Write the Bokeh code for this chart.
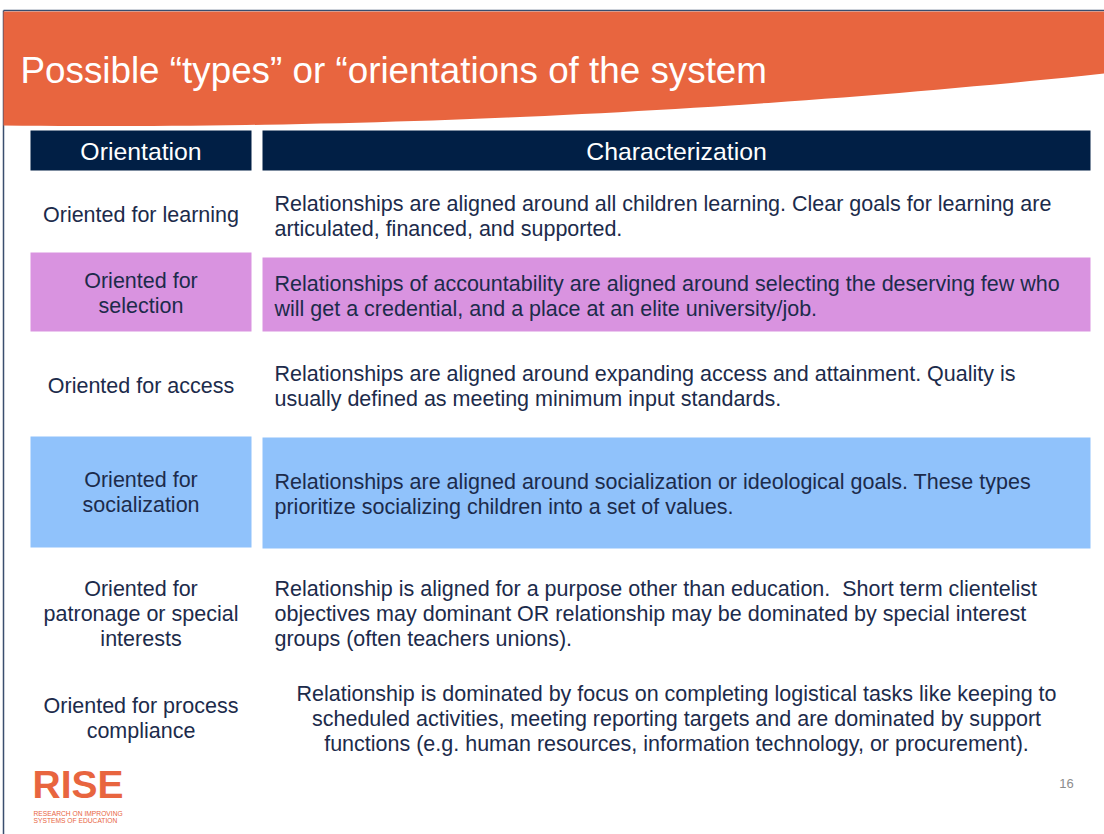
import numpy as np
from bokeh.plotting import figure
from bokeh.models import Range1d
from bokeh.core.properties import value
from bokeh.embed import file_html
from bokeh.resources import INLINE

# ---------------- content ----------------
title = "Possible \u201ctypes\u201d or \u201corientations of the system"
headers = ["Orientation", "Characterization"]
orientations = [
    "Oriented for learning",
    "Oriented for\nselection",
    "Oriented for access",
    "Oriented for\nsocialization",
    "Oriented for\npatronage or special\ninterests",
    "Oriented for process\ncompliance",
]
characterizations = [
    "Relationships are aligned around all children learning. Clear goals for learning are\narticulated, financed, and supported.",
    "Relationships of accountability are aligned around selecting the deserving few who\nwill get a credential, and a place at an elite university/job.",
    "Relationships are aligned around expanding access and attainment. Quality is\nusually defined as meeting minimum input standards.",
    "Relationships are aligned around socialization or ideological goals. These types\nprioritize socializing children into a set of values.",
    "Relationship is aligned for a purpose other than education.\u00a0 Short term clientelist\nobjectives may dominant OR relationship may be dominated by special interest\ngroups (often teachers unions).",
    "Relationship is dominated by focus on completing logistical tasks like keeping to\nscheduled activities, meeting reporting targets and are dominated by support\nfunctions (e.g. human resources, information technology, or procurement).",
]
row_fill = [None, "#D993E0", None, "#90C2FB", None, None]
char_align = ["left", "left", "left", "left", "left", "center"]
page_number = "16"
logo = "RISE"
logo_sub = ["RESEARCH ON IMPROVING", "SYSTEMS OF EDUCATION"]

# ---------------- style / layout ----------------
W, H = 1104, 834
FONT = "Liberation Sans"
ORANGE = "#E8653F"
NAVY = "#011F45"
TEXT = "#1C2B4B"
BODY_SIZE = "21.5px"
LINE_H = 25
row_center_left = [214, 293, 385, 492, 613, 718]
row_center_right = [216, 296, 386, 494, 613, 718]
left_box = [(30, 251), (262, 1090)]          # x extents of the two columns
row_box = {1: [(252, 331), (257, 331)], 3: [(436, 547), (437, 548)]}

p = figure(width=W, height=H, x_range=Range1d(0, W), y_range=Range1d(H, 0),
           output_backend="svg", toolbar_location=None, min_border=0)
p.xaxis.visible = False
p.yaxis.visible = False
p.grid.visible = False
p.outline_line_color = None
p.background_fill_color = "white"
p.border_fill_color = "white"

# slide frame lines
p.line(x=[3, W], y=[10, 10], line_color="#3A4E6E", line_width=1.5)
p.line(x=[3, 3], y=[10, H], line_color="#3A4E6E", line_width=1.5)

# orange header with curved lower edge
cx = np.linspace(W, 3, 60)
cy = 125 + 0.0109 * cx - 5.25e-5 * cx ** 2
hx = [3, W] + list(cx)
hy = [11, 11] + list(cy)
p.patch(x=hx, y=hy, fill_color=ORANGE, line_color=None)

p.text(x=[20], y=[70], text=[title], text_font=value(FONT), text_font_size="36.8px",
       text_color="white", text_align="left", text_baseline="middle")

# header boxes
for (x0, x1), h in zip(left_box, headers):
    p.quad(left=[x0], right=[x1], top=[130], bottom=[170], fill_color=NAVY, line_color=None)
    p.text(x=[(x0 + x1) / 2], y=[151], text=[h], text_font=value(FONT), text_font_size="24.8px",
           text_color="white", text_align="center", text_baseline="middle")

# rows
for i, (o, c) in enumerate(zip(orientations, characterizations)):
    if row_fill[i] is not None:
        for (x0, x1), (t, b) in zip(left_box, row_box[i]):
            p.quad(left=[x0], right=[x1], top=[t], bottom=[b], fill_color=row_fill[i], line_color=None)
    lines = o.split("\n")
    n = len(lines)
    ys = [row_center_left[i] + (k - (n - 1) / 2) * LINE_H for k in range(n)]
    p.text(x=[(left_box[0][0] + left_box[0][1]) / 2] * n, y=ys, text=lines,
           text_font=value(FONT), text_font_size=BODY_SIZE, text_color=TEXT,
           text_align="center", text_baseline="middle")
    lines = c.split("\n")
    n = len(lines)
    ys = [row_center_right[i] + (k - (n - 1) / 2) * LINE_H for k in range(n)]
    if char_align[i] == "left":
        xs = [274] * n
    else:
        xs = [(left_box[1][0] + left_box[1][1]) / 2] * n
    p.text(x=xs, y=ys, text=lines, text_font=value(FONT), text_font_size=BODY_SIZE,
           text_color=TEXT, text_align=char_align[i], text_baseline="middle")

# page number
p.text(x=[1066], y=[783], text=[page_number], text_font=value(FONT), text_font_size="13px",
       text_color="#8C8C8C", text_align="center", text_baseline="middle")

# logo
p.text(x=[32], y=[784], text=[logo], text_font=value(FONT), text_font_size="39px",
       text_font_style="bold", text_color=ORANGE, text_align="left", text_baseline="middle")
p.text(x=[33, 33], y=[813, 820], text=logo_sub, text_font=value(FONT), text_font_size="6.7px",
       text_color=ORANGE, text_align="left", text_baseline="middle")

html = file_html(p, INLINE)
html = html.replace("<head>", "<head><style>html,body{margin:0;padding:0;overflow:hidden;}</style>", 1)
open("out.html", "w").write(html)
